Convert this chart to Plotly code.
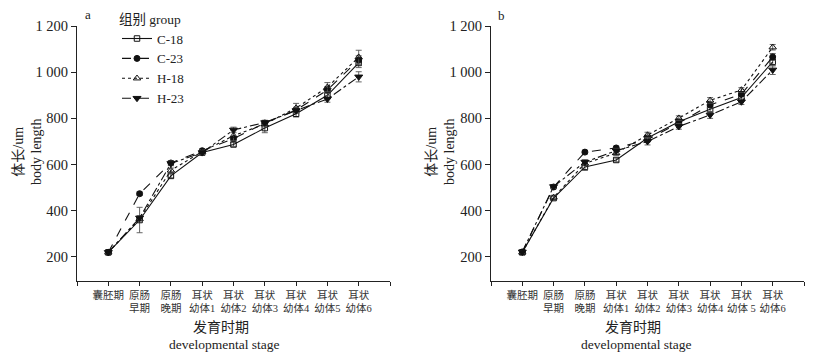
import plotly.graph_objects as go

W, H = 823, 358

stages_a = ["囊胚期", "原肠<br>早期", "原肠<br>晚期", "耳状<br>幼体1", "耳状<br>幼体2", "耳状<br>幼体3",
            "耳状<br>幼体4", "耳状<br>幼体5", "耳状<br>幼体6"]
stages_b = ["囊胚期", "原肠<br>早期", "原肠<br>晚期", "耳状<br>幼体1", "耳状<br>幼体2", "耳状<br>幼体3",
            "耳状<br>幼体4", "耳状<br>幼体 5", "耳状<br>幼体6"]
groups = ["C-18", "C-23", "H-18", "H-23"]

# panel a
a_C18 = [220, 360, 551, 652, 687, 758, 820, 900, 1040]
a_C23 = [220, 474, 607, 660, 712, 780, 836, 923, 1053]
a_H18 = [220, 365, 575, 656, 725, 775, 845, 935, 1065]
a_H23 = [220, 369, 605, 652, 750, 782, 834, 884, 980]
a_C18_err = [6, 55, 8, 8, 8, 20, 14, 15, 20]
a_C23_err = [6, 8, 10, 8, 10, 10, 12, 15, 18]
a_H18_err = [6, 10, 10, 8, 22, 12, 20, 20, 30]
a_H23_err = [6, 10, 10, 8, 12, 10, 12, 14, 22]

# panel b
b_C18 = [220, 455, 590, 620, 715, 785, 840, 890, 1045]
b_C23 = [222, 503, 654, 672, 708, 780, 858, 905, 1066]
b_H18 = [220, 458, 605, 650, 728, 801, 878, 923, 1108]
b_H23 = [222, 505, 611, 660, 700, 765, 815, 872, 1010]
b_C18_err = [6, 8, 15, 8, 12, 12, 15, 12, 18]
b_C23_err = [6, 8, 8, 8, 10, 10, 12, 10, 15]
b_H18_err = [6, 8, 10, 10, 12, 10, 12, 10, 12]
b_H23_err = [6, 8, 10, 10, 15, 12, 15, 12, 20]

FONT = "Liberation Serif, Noto Sans CJK SC, serif"
styles = {
    "C-18": dict(dash="solid", symbol="square-open", size=5.5),
    "C-23": dict(dash="dash", symbol="circle", size=6),
    "H-18": dict(dash="dot", symbol="triangle-up-open", size=6.5),
    "H-23": dict(dash="dashdot", symbol="triangle-down", size=7),
}

fig = go.Figure()
xs = list(range(9))
panels = [
    ("x", "y", [a_C18, a_C23, a_H18, a_H23], [a_C18_err, a_C23_err, a_H18_err, a_H23_err], True),
    ("x2", "y2", [b_C18, b_C23, b_H18, b_H23], [b_C18_err, b_C23_err, b_H18_err, b_H23_err], False),
]
for xa, ya, vals, errs, show in panels:
    for g, v, e in zip(groups, vals, errs):
        st = styles[g]
        fig.add_trace(go.Scatter(
            x=xs, y=v, xaxis=xa, yaxis=ya, name=g, showlegend=show,
            mode="lines+markers",
            line=dict(color="#111111", width=1.1, dash=st["dash"]),
            marker=dict(symbol=st["symbol"], size=st["size"], color="#111111",
                        line=dict(color="#111111", width=1)),
            error_y=dict(type="data", array=e, visible=True, color="#555555", thickness=0.9, width=3),
        ))

def px(x):
    return x / W

def py(y):
    return 1 - y / H

tickvals = list(range(-1, 10))
common_x = dict(range=[-1, 9], tickvals=tickvals, showline=True, linecolor="#222", linewidth=1.2,
                ticks="outside", ticklen=4, tickcolor="#222", showgrid=False, zeroline=False,
                tickfont=dict(family=FONT, size=10.5, color="#333"), tickangle=0, automargin=False)
common_y = dict(range=[96, 1200], tickvals=[200, 400, 600, 800, 1000, 1200],
                ticktext=["200", "400", "600", "800", "1 000", "1 200"],
                showline=True, linecolor="#222", linewidth=1.2, ticks="outside", ticklen=5,
                tickcolor="#222", showgrid=False, zeroline=False, automargin=False,
                tickfont=dict(family=FONT, size=14.5, color="#222"))

fig.update_layout(
    width=W, height=H, margin=dict(l=0, r=0, t=0, b=0, autoexpand=False),
    plot_bgcolor="white", paper_bgcolor="white",
    xaxis=dict(common_x, domain=[px(77), px(390)], anchor="y",
               ticktext=[""] + stages_a + [""]),
    yaxis=dict(common_y, domain=[py(281), py(26)], anchor="x"),
    xaxis2=dict(common_x, domain=[px(491), px(804)], anchor="y2",
                ticktext=[""] + stages_b + [""]),
    yaxis2=dict(common_y, domain=[py(281), py(26)], anchor="x2"),
    legend=dict(x=px(117), y=py(6), xanchor="left", yanchor="top",
                title=dict(text="组别 group", font=dict(family=FONT, size=13.5, color="#222")),
                font=dict(family=FONT, size=13, color="#222"),
                bgcolor="rgba(0,0,0,0)", tracegroupgap=0, itemwidth=30),
    showlegend=True,
)

ann = []
def add(text, x, y, size, angle=0):
    ann.append(dict(text=text, x=px(x), y=py(y), xref="paper", yref="paper", showarrow=False,
                    xanchor="center", yanchor="middle", textangle=angle,
                    font=dict(family=FONT, size=size, color="#222")))

add("a", 88, 14, 13)
add("b", 501, 15, 13)
for cx in (221, 633):
    add("发育时期", cx, 327, 14)
    add("developmental stage", cx + 3, 344, 13.5)
for lx in (27, 440):
    add("体长/um<br>body length", lx, 152, 14, -90)
fig.update_layout(annotations=ann)

fig.write_html("out.html", config={"displayModeBar": False},
               post_script="document.body.style.margin='0px';")
